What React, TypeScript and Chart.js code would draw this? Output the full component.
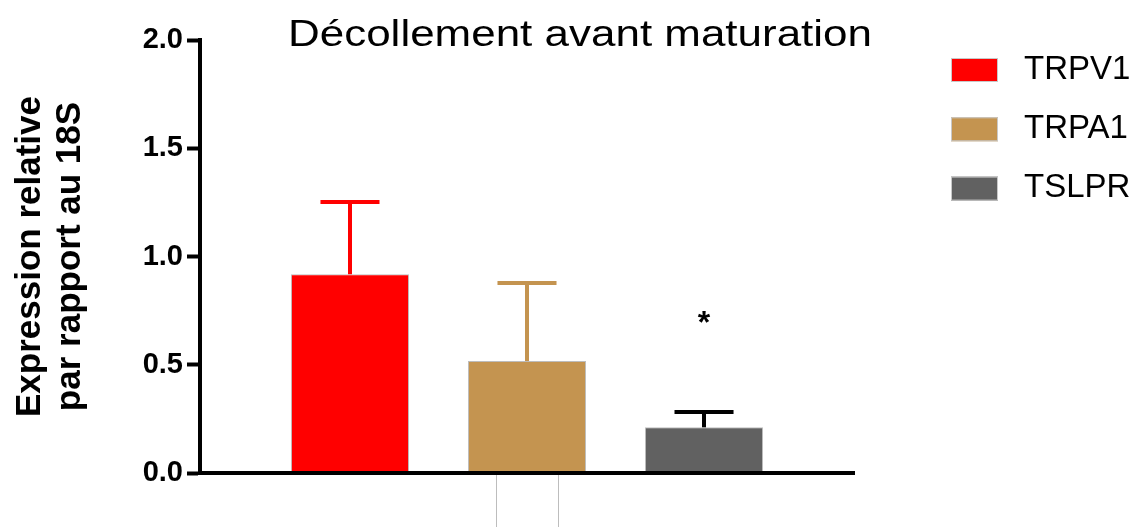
import React, { useEffect, useRef } from 'react';
import { Chart, registerables } from 'chart.js';

Chart.register(...registerables);

// Relative expression (normalised to 18S) after detachment before maturation
const chartTitle = 'Décollement avant maturation';
const yAxisTitle = ['Expression relative', 'par rapport au 18S'];
const genes = ['TRPV1', 'TRPA1', 'TSLPR'];
const means = [0.918, 0.517, 0.211];
const errors = [0.334, 0.361, 0.071];
const significance = ['', '', '*'];
const yTicks = [0, 0.5, 1.0, 1.5, 2.0];

const barColors = ['#FF0000', '#C49450', '#616161'];
const errorColors = ['#FF0000', '#C49450', '#000000'];

const SANS = '"Liberation Sans", Arial, Helvetica, sans-serif';

// Error bars, significance mark, title, legend and the small box under the axis
const decorPlugin = {
  id: 'decor',
  afterDatasetsDraw(chart: any) {
    const { ctx, scales } = chart;
    const y = scales.y;
    chart.data.datasets.forEach((ds: any, i: number) => {
      const meta = chart.getDatasetMeta(i);
      const bar = meta.data[0];
      if (!bar) return;
      const top = y.getPixelForValue(means[i] + errors[i]);
      const cx = bar.x;
      const half = bar.width / 4;
      ctx.save();
      ctx.strokeStyle = errorColors[i];
      ctx.lineWidth = 4;
      ctx.lineCap = 'butt';
      ctx.beginPath();
      ctx.moveTo(cx, bar.y);
      ctx.lineTo(cx, top);
      ctx.stroke();
      ctx.beginPath();
      ctx.moveTo(cx - half, top);
      ctx.lineTo(cx + half, top);
      ctx.stroke();
      if (significance[i]) {
        ctx.fillStyle = '#000';
        ctx.font = `bold 32px ${SANS}`;
        ctx.textAlign = 'center';
        ctx.textBaseline = 'alphabetic';
        const m = ctx.measureText(significance[i]);
        const centerY = top - 95;
        const baseY = centerY + (m.actualBoundingBoxAscent - m.actualBoundingBoxDescent) / 2;
        ctx.fillText(significance[i], cx, baseY);
      }
      ctx.restore();
    });
  },
  afterDraw(chart: any) {
    const { ctx, chartArea, scales } = chart;
    ctx.save();

    // title, slightly widened
    ctx.font = `36px ${SANS}`;
    ctx.fillStyle = '#000';
    ctx.textAlign = 'center';
    ctx.textBaseline = 'alphabetic';
    const natural = ctx.measureText(chartTitle).width;
    const sx = 584 / natural;
    ctx.save();
    ctx.translate(chartArea.left + 380, 46);
    ctx.scale(sx, 1);
    ctx.fillText(chartTitle, 0, 0);
    ctx.restore();

    // legend
    const boxLeft = chartArea.right + 97;
    chart.data.datasets.forEach((ds: any, i: number) => {
      const top = 58 + i * 59.3;
      ctx.fillStyle = ds.backgroundColor;
      ctx.fillRect(boxLeft, top, 47, 24);
      ctx.strokeStyle = '#c8c8c8';
      ctx.lineWidth = 1;
      ctx.strokeRect(boxLeft + 0.5, top + 0.5, 46, 23);
      ctx.fillStyle = '#000';
      ctx.font = `33px ${SANS}`;
      ctx.textAlign = 'left';
      ctx.fillText(ds.label, boxLeft + 73, top + 20.5);
    });

    // thin grey box under the middle of the axis
    const mid = scales.x.getPixelForValue(0);
    ctx.strokeStyle = '#bdbdbd';
    ctx.lineWidth = 1;
    ctx.beginPath();
    ctx.moveTo(Math.round(mid - 31) + 0.5, chartArea.bottom + 2);
    ctx.lineTo(Math.round(mid - 31) + 0.5, chart.height);
    ctx.moveTo(Math.round(mid + 31) + 0.5, chartArea.bottom + 2);
    ctx.lineTo(Math.round(mid + 31) + 0.5, chart.height);
    ctx.stroke();

    ctx.restore();
  },
};

export default function App() {
  const canvasRef = useRef<HTMLCanvasElement | null>(null);

  useEffect(() => {
    document.body.style.margin = '0';
    const canvas = canvasRef.current;
    if (!canvas) return;

    const chart = new Chart(canvas, {
      type: 'bar',
      data: {
        labels: [''],
        datasets: genes.map((g, i) => ({
          label: g,
          data: [means[i]],
          backgroundColor: barColors[i],
          borderColor: '#bdbdbd',
          borderWidth: 1,
          categoryPercentage: 0.812,
          barPercentage: 0.667,
        })),
      },
      options: {
        responsive: false,
        animation: false,
        devicePixelRatio: 1,
        layout: { padding: { top: 40, right: 284, bottom: 0, left: 0 } },
        plugins: {
          legend: { display: false },
          tooltip: { enabled: false },
          title: { display: false },
        },
        scales: {
          x: {
            type: 'category',
            offset: true,
            grid: { display: false },
            ticks: { display: false },
            border: { display: true, color: '#000', width: 4, z: 1 },
            afterFit(scale: any) {
              scale.height = 54;
            },
          },
          y: {
            min: 0,
            max: 2,
            afterBuildTicks(scale: any) {
              scale.ticks = yTicks.map((v) => ({ value: v }));
            },
            ticks: {
              color: '#000',
              padding: 4,
              font: { family: SANS, size: 29, weight: 'bold' },
              callback: (v: any) => Number(v).toFixed(1),
            },
            grid: {
              display: true,
              drawOnChartArea: false,
              drawTicks: true,
              tickLength: 13,
              tickWidth: 4,
              tickColor: '#000',
            },
            border: { display: true, color: '#000', width: 4, z: 1 },
            title: {
              display: true,
              text: yAxisTitle,
              color: '#000',
              font: { family: SANS, size: 35, weight: 'bold', lineHeight: 1.15 },
              padding: { top: 10, bottom: 0 },
            },
            afterFit(scale: any) {
              scale.width = 200;
            },
          },
        },
      },
      plugins: [decorPlugin],
    } as any);

    return () => chart.destroy();
  }, []);

  return <canvas ref={canvasRef} width={1138} height={527} style={{ display: 'block' }} />;
}
